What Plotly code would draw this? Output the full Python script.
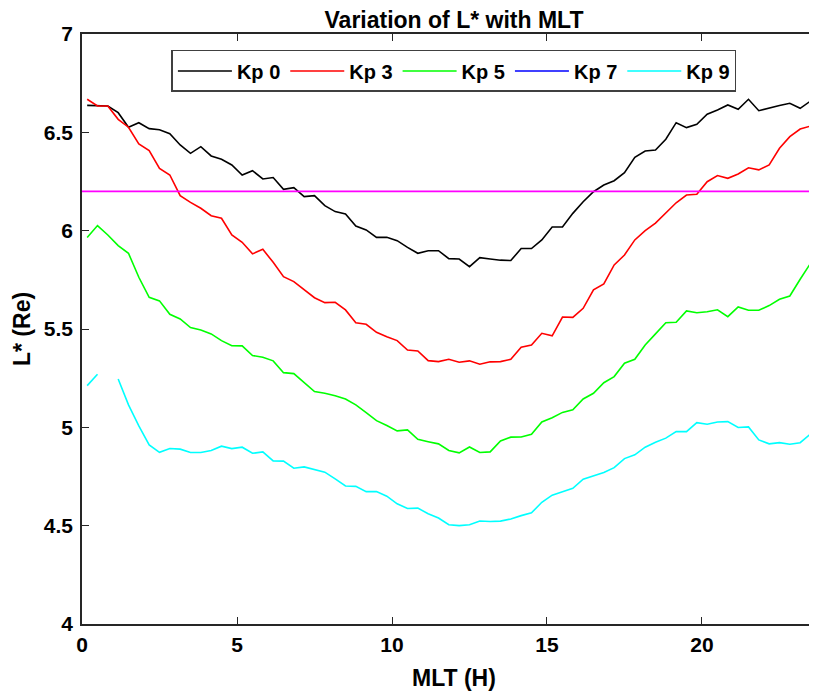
import plotly.graph_objects as go

# MLT bin centres (hours), 20 minute bins
mlt = [0.167, 0.5, 0.833, 1.167, 1.5, 1.833, 2.167, 2.5, 2.833, 3.167,
       3.5, 3.833, 4.167, 4.5, 4.833, 5.167, 5.5, 5.833, 6.167, 6.5,
       6.833, 7.167, 7.5, 7.833, 8.167, 8.5, 8.833, 9.167, 9.5, 9.833,
       10.167, 10.5, 10.833, 11.167, 11.5, 11.833, 12.167, 12.5, 12.833, 13.167,
       13.5, 13.833, 14.167, 14.5, 14.833, 15.167, 15.5, 15.833, 16.167, 16.5,
       16.833, 17.167, 17.5, 17.833, 18.167, 18.5, 18.833, 19.167, 19.5, 19.833,
       20.167, 20.5, 20.833, 21.167, 21.5, 21.833, 22.167, 22.5, 22.833, 23.167,
       23.5]

lstar_kp0 = [6.637, 6.634, 6.634, 6.600, 6.526, 6.549, 6.519, 6.513, 6.493, 6.436,
             6.393, 6.427, 6.380, 6.363, 6.334, 6.283, 6.305, 6.263, 6.270, 6.210,
             6.219, 6.173, 6.178, 6.127, 6.097, 6.085, 6.024, 6.004, 5.966, 5.966,
             5.949, 5.915, 5.885, 5.898, 5.898, 5.858, 5.856, 5.817, 5.863, 5.856,
             5.850, 5.848, 5.909, 5.909, 5.953, 6.019, 6.019, 6.088, 6.147, 6.198,
             6.232, 6.254, 6.295, 6.373, 6.405, 6.410, 6.465, 6.549, 6.524, 6.541,
             6.592, 6.614, 6.639, 6.617, 6.668, 6.610, 6.625, 6.636, 6.648, 6.622,
             6.659]

lstar_kp3 = [6.668, 6.634, 6.634, 6.566, 6.526, 6.441, 6.407, 6.317, 6.283, 6.178,
             6.144, 6.114, 6.076, 6.063, 5.978, 5.941, 5.882, 5.905, 5.839, 5.766,
             5.741, 5.702, 5.659, 5.634, 5.636, 5.597, 5.532, 5.524, 5.483, 5.461,
             5.441, 5.393, 5.388, 5.339, 5.334, 5.346, 5.331, 5.338, 5.321, 5.333,
             5.334, 5.346, 5.407, 5.419, 5.478, 5.465, 5.561, 5.559, 5.605, 5.699,
             5.729, 5.826, 5.876, 5.953, 6.000, 6.038, 6.088, 6.142, 6.181, 6.185,
             6.249, 6.280, 6.266, 6.288, 6.320, 6.309, 6.334, 6.419, 6.478, 6.517,
             6.532]

lstar_kp5 = [5.965, 6.026, 5.978, 5.924, 5.885, 5.763, 5.661, 5.643, 5.575, 5.551,
             5.507, 5.495, 5.475, 5.441, 5.415, 5.414, 5.365, 5.356, 5.338, 5.278,
             5.273, 5.229, 5.182, 5.173, 5.161, 5.144, 5.114, 5.075, 5.034, 5.009,
             4.982, 4.987, 4.939, 4.927, 4.916, 4.882, 4.870, 4.900, 4.872, 4.875,
             4.931, 4.950, 4.951, 4.965, 5.027, 5.049, 5.076, 5.089, 5.144, 5.173,
             5.227, 5.258, 5.326, 5.346, 5.419, 5.475, 5.532, 5.534, 5.592, 5.583,
             5.588, 5.598, 5.563, 5.612, 5.595, 5.595, 5.619, 5.651, 5.668, 5.753,
             5.834]

# Kp 7 has no valid points
lstar_kp7 = [None] * 71

lstar_kp9 = [5.212, 5.270, None, 5.246, 5.114, 5.007, 4.911, 4.873, 4.892, 4.889,
             4.872, 4.872, 4.882, 4.904, 4.892, 4.899, 4.868, 4.875, 4.829, 4.828,
             4.792, 4.799, 4.785, 4.772, 4.738, 4.702, 4.700, 4.673, 4.673, 4.650,
             4.611, 4.587, 4.589, 4.561, 4.539, 4.505, 4.500, 4.505, 4.524, 4.521,
             4.523, 4.534, 4.551, 4.565, 4.619, 4.655, 4.673, 4.690, 4.736, 4.753,
             4.770, 4.795, 4.841, 4.860, 4.899, 4.924, 4.945, 4.978, 4.978, 5.024,
             5.016, 5.027, 5.029, 4.999, 5.002, 4.936, 4.916, 4.922, 4.914, 4.922,
             4.966]

labels = ['Kp 0', 'Kp 3', 'Kp 5', 'Kp 7', 'Kp 9']
colors = ['#000000', '#ff0000', '#00ff00', '#0000ff', '#00ffff']
series = [lstar_kp0, lstar_kp3, lstar_kp5, lstar_kp7, lstar_kp9]

# reference L* level
lstar_ref = 6.2

FONT = 'Liberation Sans, Arial, Helvetica, sans-serif'
AXCOL = '#262626'

# the page body adds an 8px margin, so the figure is drawn 8px smaller
W, H = 809, 686

fig = go.Figure()
for name, col, ys in zip(labels, colors, series):
    fig.add_trace(go.Scatter(x=mlt, y=ys, mode='lines', name=name,
                             line=dict(color=col, width=1.6),
                             connectgaps=False))

fig.add_hline(y=lstar_ref, line=dict(color='#ff00ff', width=1.6), layer='above')

fig.update_layout(
    width=W, height=H,
    margin=dict(l=74, r=0, t=26, b=70),
    paper_bgcolor='white', plot_bgcolor='white',
    font=dict(family=FONT, color='#000000'),
    showlegend=True,
    title=dict(text='Variation of L* with MLT', x=446 / W, xref='container',
               xanchor='center', y=1 - 12 / H, yref='container', yanchor='middle',
               font=dict(size=23, weight='bold', color='#000000')),
    legend=dict(orientation='h', x=0.506, xanchor='center', y=0.973, yanchor='top',
                bgcolor='white', bordercolor='#404040', borderwidth=1.5,
                font=dict(size=20, weight='bold', color='#000000'),
                itemwidth=54, traceorder='normal'),
)

fig.update_xaxes(range=[0, 23.71], tickvals=[0, 5, 10, 15, 20],
                 ticks='inside', ticklen=7, tickwidth=1.2, tickcolor=AXCOL,
                 showline=True, linecolor=AXCOL, linewidth=1.5, mirror='ticks',
                 showgrid=False, zeroline=False, ticklabelstandoff=1,
                 tickfont=dict(size=21, weight='bold', color='#000000'))
fig.update_yaxes(range=[4, 7], dtick=0.5,
                 ticks='inside', ticklen=7, tickwidth=1.2, tickcolor=AXCOL,
                 showline=True, linecolor=AXCOL, linewidth=1.5, mirror=False,
                 showgrid=False, zeroline=False, ticklabelstandoff=3,
                 tickfont=dict(size=21, weight='bold', color='#000000'))

fig.add_annotation(text='MLT (H)', xref='paper', yref='paper', x=0.506, y=-0.0915,
                   xanchor='center', yanchor='middle', showarrow=False,
                   font=dict(size=23, weight='bold', color='#000000'))
fig.add_annotation(text='L* (Re)', xref='paper', yref='paper', x=-0.0816, y=0.5,
                   xanchor='center', yanchor='middle', showarrow=False, textangle=-90,
                   font=dict(size=23, weight='bold', color='#000000'))

fig.write_html('out.html')
